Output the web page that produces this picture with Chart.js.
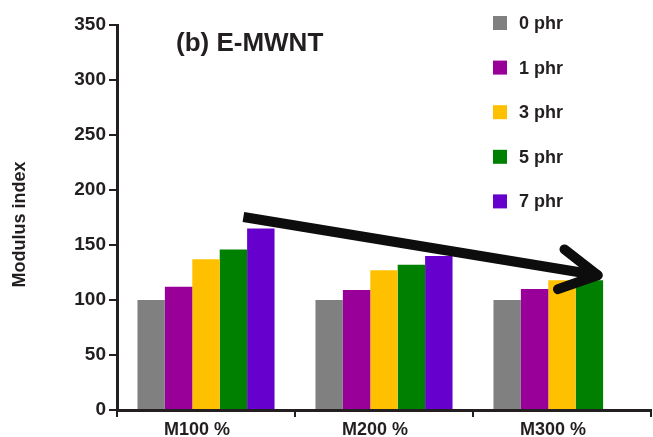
<!DOCTYPE html>
<html>
<head>
<meta charset="utf-8">
<script src="https://cdn.jsdelivr.net/npm/chart.js@4"></script>
<style>
  html, body { margin: 0; padding: 0; background: #fff; }
  #wrap { width: 653px; height: 437px; }
</style>
</head>
<body>
<div id="wrap"><canvas id="modulusChart"></canvas></div>
<script>
// categories and series
const categories = ['M100 %', 'M200 %', 'M300 %'];
const seriesLabels = ['0 phr', '1 phr', '3 phr', '5 phr', '7 phr'];
const phr0 = [100, 100, 100];
const phr1 = [112, 109, 110];
const phr3 = [137, 127, 118];
const phr5 = [146, 132, 118];
const phr7 = [165, 140, null];
const yTicks = [0, 50, 100, 150, 200, 250, 300, 350];

const colors = ['#808080', '#990099', '#FFC000', '#008000', '#6600CC'];
const ink = '#231f20';
const fontFamily = '"Liberation Sans", Arial, Helvetica, sans-serif';

/**
 * Draws the in-plot title, the axis title, the vertical legend and the trend arrow
 */
const overlayPlugin = {
  id: 'overlay',
  afterDatasetsDraw(chart) {
    const ctx = chart.ctx;
    const area = chart.chartArea;
    const x = chart.scales.x;
    const y = chart.scales.y;
    const step = x.getPixelForValue(1) - x.getPixelForValue(0);

    ctx.save();

    // title
    ctx.fillStyle = ink;
    ctx.font = 'bold 26px ' + fontFamily;
    ctx.textBaseline = 'alphabetic';
    ctx.textAlign = 'left';
    ctx.fillText('(b) E-MWNT', area.left + 59, area.top + 26);

    // y axis title
    ctx.save();
    ctx.translate(20, (area.top + area.bottom) / 2 + 7);
    ctx.rotate(-Math.PI / 2);
    ctx.font = 'bold 18px ' + fontFamily;
    ctx.textAlign = 'center';
    ctx.textBaseline = 'middle';
    ctx.fillText('Modulus index', 0, 0);
    ctx.restore();

    // legend
    ctx.font = 'bold 18px ' + fontFamily;
    ctx.textBaseline = 'middle';
    chart.data.datasets.forEach((ds, i) => {
      const cy = 23 + i * 44.6;
      ctx.fillStyle = ds.backgroundColor;
      ctx.fillRect(493, cy - 7, 14, 14);
      ctx.fillStyle = ink;
      ctx.fillText(ds.label, 519, cy + 1);
    });

    // arrow
    const x0 = x.getPixelForValue(0) + 0.21 * step;
    const y0 = y.getPixelForValue(175.5);
    const x1 = x.getPixelForValue(2) + 0.2 * step;
    const y1 = y.getPixelForValue(122.5);
    const ang = Math.atan2(y1 - y0, x1 - x0);
    ctx.strokeStyle = '#0d0d0d';
    ctx.lineWidth = 10;
    ctx.lineCap = 'butt';
    ctx.beginPath();
    ctx.moveTo(x0, y0);
    ctx.lineTo(x1 - 6 * Math.cos(ang), y1 - 6 * Math.sin(ang));
    ctx.stroke();
    ctx.lineCap = 'round';
    [0.5, -0.5].forEach(d => {
      const a = ang + Math.PI + d;
      ctx.beginPath();
      ctx.moveTo(x1, y1);
      ctx.lineTo(x1 + 42 * Math.cos(a), y1 + 42 * Math.sin(a));
      ctx.stroke();
    });

    ctx.restore();
  }
};

const chart = new Chart(document.getElementById('modulusChart'), {
  type: 'bar',
  data: {
    labels: categories,
    datasets: [phr0, phr1, phr3, phr5, phr7].map((values, i) => ({
      label: seriesLabels[i],
      data: values,
      backgroundColor: colors[i],
      borderWidth: 0,
      categoryPercentage: 0.77,
      barPercentage: 1.0
    }))
  },
  options: {
    responsive: true,
    maintainAspectRatio: false,
    animation: false,
    layout: { padding: { top: 25, right: 2, left: 0, bottom: 0 } },
    plugins: {
      legend: { display: false },
      tooltip: { enabled: false }
    },
    scales: {
      x: {
        grid: {
          offset: true,
          drawOnChartArea: false,
          drawTicks: true,
          tickLength: 7,
          color: ink,
          lineWidth: 2
        },
        border: { color: ink, width: 3 },
        ticks: {
          color: ink,
          padding: 2,
          labelOffset: -9,
          font: { family: fontFamily, size: 18, weight: 'bold' }
        },
        afterFit(scale) { scale.height = 27; }
      },
      y: {
        min: 0,
        max: 350,
        afterBuildTicks(scale) { scale.ticks = yTicks.map(v => ({ value: v })); },
        grid: {
          drawOnChartArea: false,
          drawTicks: true,
          tickLength: 8,
          color: ink,
          lineWidth: 2
        },
        border: { color: ink, width: 3 },
        ticks: {
          color: ink,
          padding: 3,
          font: { family: fontFamily, size: 19, weight: 'bold' }
        },
        afterFit(scale) { scale.width = 117; }
      }
    }
  },
  plugins: [overlayPlugin]
});
</script>
</body>
</html>
